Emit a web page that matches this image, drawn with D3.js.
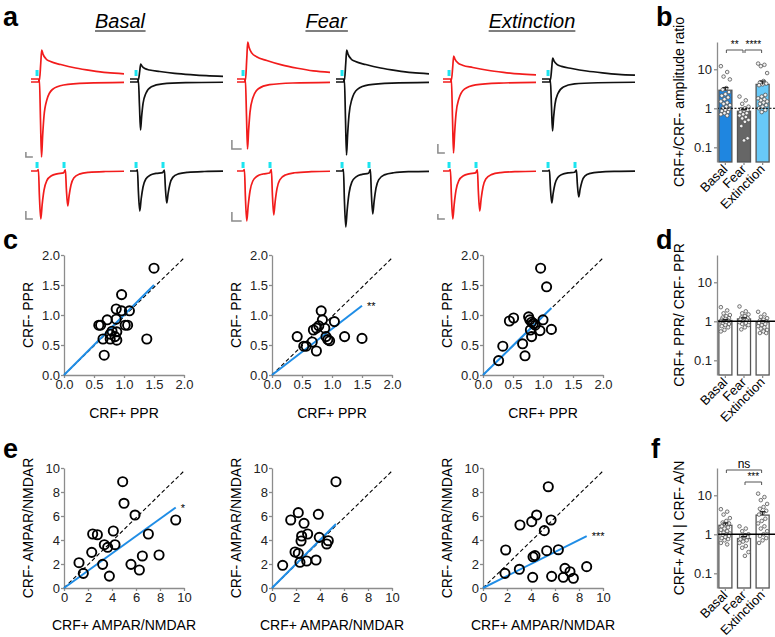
<!DOCTYPE html>
<html>
<head>
<meta charset="utf-8">
<script src="https://cdn.jsdelivr.net/npm/d3@7"></script>
<style>
  body { margin: 0; background: #fff; }
  svg { font-family: Arial, "Liberation Sans", sans-serif; }
</style>
</head>
<body>
<svg id="fig" width="775" height="637"></svg>
<script>
// groups
var conditions = ['Basal', 'Fear', 'Extinction'];

// panel a : peak amplitudes of the sample traces (a.u.)
var nmdaAmpPos = [29, 37, 23];   // CRF+ (red), outward
var nmdaAmpNeg = [15, 29, 21];   // CRF- (black), outward
var ampaAmpPos = [75, 67, 71];   // CRF+ inward
var ampaAmpNeg = [48, 73, 49];   // CRF- inward
var ppr1Pos = [48, 50, 48];
var ppr2Pos = [35, 44, 40];
var ppr1Neg = [40, 56, 32];
var ppr2Neg = [32, 43, 26];
var stimMs = [6.5, 35.5];
var scaleBarMs = [7.5, 10.5, 7.5];
var scaleBarTop = [5, 9, 9];
var scaleBarBot = [8, 9, 5];

// normalised waveform shapes: [ms, value]
var nmdaShape = [[0, 0], [6.5, 0], [8, 0], [9, -0.06], [10.5, 0.55], [11.5, 1], [13, 0.85], [16, 0.7],
  [21, 0.6], [32, 0.5], [48, 0.38], [65, 0.29], [82, 0.22], [100, 0.18]];
var ampaShape = [[0, 0], [6.5, 0], [8, 0], [9, 0.04], [10.2, -0.5], [11.3, -1], [12.5, -0.72], [14, -0.45],
  [17, -0.24], [23, -0.1], [35, -0.04], [60, -0.015], [100, -0.005]];
// [ms, pulse, value]
var pprShape = [[0, 0, 0], [6.5, 0, 0], [8, 1, 0.03], [9, 1, -0.5], [10.5, 1, -1], [12, 1, -0.7], [14, 1, -0.4],
  [17, 1, -0.2], [22, 1, -0.1], [28, 1, -0.06], [35, 1, -0.04], [37, 2, 0.03], [38, 2, -0.5], [39.5, 2, -1],
  [41, 2, -0.7], [43, 2, -0.4], [46, 2, -0.2], [52, 2, -0.09], [62, 2, -0.04], [80, 2, -0.015], [100, 0, -0.005]];

// panel b : CRF+/CRF- amplitude ratio
var ampMean = [2.9, 0.84, 4.1];
var ampSem = [0.5, 0.1, 0.9];
var ampBasal = [12, 8.5, 6.5, 5.5, 3.3, 3.0, 2.6, 2.3, 2.1, 1.9, 1.7, 1.5, 1.4, 1.3, 1.2, 1.1, 1.0, 0.95, 0.9, 0.85, 0.8, 0.75, 0.7, 0.65];
var ampFear = [2.0, 1.6, 1.3, 1.1, 1.0, 0.95, 0.9, 0.85, 0.8, 0.75, 0.7, 0.65, 0.6, 0.55, 0.5, 0.45, 0.35, 0.17, 0.15];
var ampExt = [14, 13, 12, 8, 5, 4.6, 4.3, 4.1, 3.9, 2.2, 2.0, 1.8, 1.7, 1.6, 1.5, 1.4, 1.3, 1.2, 1.1, 1.0, 0.9, 0.8];

// panel c : PPR scatter [CRF+, CRF-]
var pprBasal = [[1.50, 1.78], [0.96, 1.34], [0.87, 1.10], [0.96, 1.07], [1.09, 1.07], [0.72, 0.92], [0.87, 0.93],
  [0.58, 0.83], [0.61, 0.83], [1.02, 0.83], [1.06, 0.83], [0.80, 0.73], [0.88, 0.72], [0.77, 0.68], [0.85, 0.64],
  [0.65, 0.60], [0.77, 0.60], [0.88, 0.58], [1.38, 0.60], [0.67, 0.33]];
var pprFear = [[0.82, 1.07], [0.84, 0.92], [1.04, 0.89], [0.78, 0.82], [0.69, 0.75], [0.74, 0.78], [0.88, 0.78],
  [0.42, 0.64], [0.90, 0.64], [1.21, 0.64], [1.50, 0.61], [0.93, 0.59], [0.96, 0.57], [0.67, 0.55], [0.53, 0.48],
  [0.57, 0.48], [0.74, 0.40]];
var pprExt = [[0.96, 1.78], [1.06, 1.47], [0.44, 0.90], [0.51, 0.95], [0.76, 0.97], [0.78, 0.92], [0.81, 0.88],
  [0.84, 0.86], [0.87, 0.83], [1.00, 0.92], [1.14, 0.76], [0.95, 0.74], [0.79, 0.75], [0.81, 0.64], [0.66, 0.52],
  [0.70, 0.32], [0.33, 0.48], [0.26, 0.24]];
var pprSlope = [1.0, 0.77, 0.98];
var pprStars = ['', '**', ''];

// panel d : PPR ratio
var ppMean = [1.05, 1.15, 0.95];
var ppSem = [0.06, 0.08, 0.07];
var ppBasal = [2.3, 1.9, 1.6, 1.45, 1.35, 1.25, 1.2, 1.15, 1.1, 1.05, 1.0, 1.0, 0.95, 0.95, 0.9, 0.9, 0.85, 0.85, 0.8, 0.75, 0.7, 0.6, 0.55];
var ppFear = [2.4, 1.8, 1.6, 1.5, 1.35, 1.25, 1.2, 1.15, 1.1, 1.05, 1.0, 0.95, 0.9, 0.85, 0.8, 0.7, 0.62];
var ppExt = [1.75, 1.5, 1.3, 1.2, 1.1, 1.05, 1.0, 0.95, 0.9, 0.85, 0.8, 0.75, 0.7, 0.65, 0.6, 0.55, 0.5, 0.5];

// panel e : AMPAR/NMDAR scatter [CRF+, CRF-]
var anBasal = [[4.89, 8.86], [5.00, 7.06], [5.92, 6.08], [2.39, 4.50], [2.78, 4.44], [4.11, 4.75], [4.25, 3.61],
  [3.36, 3.61], [3.64, 3.39], [7.03, 4.50], [2.31, 2.97], [1.25, 2.11], [1.61, 1.22], [3.22, 1.97], [5.58, 1.97],
  [6.53, 2.67], [7.92, 2.75], [6.28, 1.50], [3.78, 0.99], [9.31, 5.67]];
var anFear = [[5.33, 8.86], [2.19, 6.28], [3.86, 6.14], [1.56, 5.67], [2.67, 5.39], [2.47, 4.33], [2.97, 4.50],
  [2.42, 3.92], [3.94, 4.22], [4.69, 3.94], [4.56, 3.67], [1.92, 3.00], [2.19, 2.89], [3.67, 2.33], [2.89, 2.25],
  [2.33, 2.14], [0.89, 1.89]];
var anExt = [[5.44, 8.44], [4.47, 6.08], [4.06, 5.53], [5.67, 5.67], [3.08, 5.25], [5.11, 4.78], [6.28, 3.19],
  [5.31, 3.11], [4.33, 2.70], [4.17, 2.60], [3.03, 1.56], [6.83, 1.64], [7.25, 1.36], [7.53, 0.81], [6.69, 0.89],
  [8.64, 1.78], [5.72, 0.97], [4.14, 0.89], [1.89, 3.17], [1.83, 1.22]];
var anSlope = [0.72, 1.0, 0.5];
var anStars = ['*', '', '***'];

// panel f : A/N ratio
var anRatioMean = [1.7, 0.78, 3.1];
var anRatioSem = [0.25, 0.1, 0.7];
var arBasal = [4.4, 3.8, 3.2, 2.6, 2.2, 2.0, 1.9, 1.8, 1.6, 1.5, 1.4, 1.3, 1.2, 1.1, 1.05, 1.0, 0.95, 0.9, 0.85, 0.8, 0.75, 0.7, 0.6, 0.55];
var arFear = [1.6, 1.4, 1.2, 1.0, 0.95, 0.9, 0.85, 0.8, 0.75, 0.7, 0.65, 0.6, 0.5, 0.45, 0.35, 0.28];
var arExt = [11, 9, 7.5, 6, 5, 4.5, 4, 3.5, 3.2, 2.5, 2.2, 1.9, 1.6, 1.4, 1.2, 1.0, 0.9, 0.8, 0.7, 0.6];

var logTicks = [0.1, 1, 10];

var svg = d3.select('#fig');
var red = '#f21c1c';
var cyan = '#1de4ef';
var axisGray = '#8c8c8c';

// ---------- panel letters ----------
var letters = [['a', 3, 26], ['b', 656, 26], ['c', 3, 249], ['d', 656, 249], ['e', 3, 458], ['f', 651, 458]];
svg.selectAll('.letter').data(letters).enter().append('text')
  .attr('class', 'letter')
  .attr('x', function(d) { return d[1]; })
  .attr('y', function(d) { return d[2]; })
  .style('font-size', '27px').style('font-weight', 'bold')
  .text(function(d) { return d[0]; });

// ---------- panel a : traces ----------
var groupX = d3.scaleBand().domain(conditions).range([31, 649]);
var msX = d3.scaleLinear().domain([0, 100]).range([0, 93]);
var rowUp = d3.scaleLinear().domain([0, 100]).range([79, -21]);
var rowLow = d3.scaleLinear().domain([0, 100]).range([82, -18]);
var rowPpr = d3.scaleLinear().domain([0, 100]).range([171, 71]);

// titles, centred over the red + black pair
conditions.forEach(function(c, i) {
  var cx = groupX(c) + 89;
  var t = svg.append('text').attr('x', cx).attr('y', 28)
    .attr('text-anchor', 'middle')
    .style('font-size', '20px').style('font-style', 'italic')
    .text(c);
  var bb = t.node().getBBox();
  svg.append('line').attr('x1', bb.x).attr('x2', bb.x + bb.width)
    .attr('y1', 31).attr('y2', 31).attr('stroke', '#000').attr('stroke-width', 1.2);
});

function drawTrace(x0, yScale, pts, color) {
  var line = d3.line()
    .x(function(d) { return x0 + msX(d[0]); })
    .y(function(d) { return yScale(d[1]); })
    .curve(d3.curveMonotoneX);
  svg.append('path').attr('d', line(pts)).attr('fill', 'none')
    .attr('stroke', color).attr('stroke-width', 1.7).attr('stroke-linejoin', 'round');
}

function scaled(shape, amp) {
  return shape.map(function(p) { return [p[0], p[1] * amp]; });
}

function scaledPpr(a1, a2) {
  return pprShape.map(function(p) {
    var a = p[1] === 2 ? a2 : a1;
    return [p[0], p[2] * a];
  });
}

function stim(x0, yScale, ms) {
  svg.append('rect').attr('x', x0 + msX(ms) - 1.5).attr('width', 3)
    .attr('y', yScale(9)).attr('height', yScale(3) - yScale(9))
    .attr('fill', cyan);
}

function scaleBar(x0, yScale, bottom, w, h) {
  var xa = x0 + msX(-5.5);
  var xb = x0 + msX(-5.5 + w);
  var yb = yScale(bottom);
  var yt = yScale(bottom + h);
  svg.append('path').attr('d', 'M' + xa + ',' + yt + 'L' + xa + ',' + yb + 'L' + xb + ',' + yb)
    .attr('fill', 'none').attr('stroke', '#8a8a8a').attr('stroke-width', 1.5);
}

conditions.forEach(function(c, i) {
  var xr = groupX(c);
  var xb = groupX(c) + 99;
  // top row: outward and inward currents
  drawTrace(xr, rowUp, scaled(nmdaShape, nmdaAmpPos[i]), red);
  drawTrace(xr, rowLow, scaled(ampaShape, ampaAmpPos[i]), red);
  drawTrace(xb, rowUp, scaled(nmdaShape, nmdaAmpNeg[i]), '#111');
  drawTrace(xb, rowLow, scaled(ampaShape, ampaAmpNeg[i]), '#111');
  stim(xr, rowUp, stimMs[0]);
  stim(xb, rowUp, stimMs[0]);
  scaleBar(xr, rowLow, -ampaAmpPos[i], scaleBarMs[i], scaleBarTop[i]);
  // bottom row: paired pulses
  drawTrace(xr, rowPpr, scaledPpr(ppr1Pos[i], ppr2Pos[i]), red);
  drawTrace(xb, rowPpr, scaledPpr(ppr1Neg[i], ppr2Neg[i]), '#111');
  stimMs.forEach(function(s) {
    stim(xr, rowPpr, s);
    stim(xb, rowPpr, s);
  });
  scaleBar(xr, rowPpr, -ppr1Pos[i], scaleBarMs[i], scaleBarBot[i]);
});

// ---------- scatter panels c / e ----------
var scatterLeft = [64, 272, 483];

function styleAxis(g) {
  g.select('.domain').attr('stroke', axisGray).attr('stroke-width', 1.3);
  g.selectAll('.tick line').attr('stroke', axisGray).attr('stroke-width', 1.3);
  g.selectAll('.tick text').attr('fill', '#222').style('font-size', '13px');
}

function drawScatter(i, pts, top, maxV, ticks, fmt, slope, star, xLabel, yLabel, labelY) {
  var left = scatterLeft[i];
  var x = d3.scaleLinear().domain([0, maxV]).range([left, left + 120]);
  var y = d3.scaleLinear().domain([0, maxV]).range([top + 120, top]);
  var g = svg.append('g');

  g.append('g').attr('transform', 'translate(0,' + (top + 120) + ')')
    .call(d3.axisBottom(x).tickValues(ticks).tickFormat(d3.format(fmt)).tickSize(3).tickPadding(2).tickSizeOuter(0))
    .call(styleAxis);
  g.append('g').attr('transform', 'translate(' + left + ',0)')
    .call(d3.axisLeft(y).tickValues(ticks).tickFormat(d3.format(fmt)).tickSize(3).tickPadding(1).tickSizeOuter(0))
    .call(styleAxis);

  // identity line
  g.append('line')
    .attr('x1', x(0)).attr('y1', y(0)).attr('x2', x(maxV)).attr('y2', y(maxV * 0.975))
    .attr('stroke', '#000').attr('stroke-width', 1.1).attr('stroke-dasharray', '4,2.5');

  // regression through origin
  var xEnd = d3.max(pts, function(d) { return d[0]; });
  g.append('line')
    .attr('x1', x(0)).attr('y1', y(0)).attr('x2', x(xEnd)).attr('y2', y(xEnd * slope))
    .attr('stroke', '#1f8de6').attr('stroke-width', 2);

  g.selectAll('circle').data(pts).enter().append('circle')
    .attr('cx', function(d) { return x(d[0]); })
    .attr('cy', function(d) { return y(d[1]); })
    .attr('r', 4.6)
    .attr('fill', 'none').attr('stroke', '#000').attr('stroke-width', 1.9);

  if (star) {
    g.append('text').attr('x', x(xEnd) + 5).attr('y', y(xEnd * slope) + 4)
      .style('font-size', '11px').text(star);
  }

  g.append('text').attr('x', left + 60).attr('y', labelY)
    .attr('text-anchor', 'middle').style('font-size', '14px').text(xLabel);
  g.append('text')
    .attr('transform', 'translate(' + (left - 31) + ',' + (top + 60) + ') rotate(-90)')
    .attr('text-anchor', 'middle').style('font-size', '14px').text(yLabel);
}

var pprSets = [pprBasal, pprFear, pprExt];
var anSets = [anBasal, anFear, anExt];
pprSets.forEach(function(pts, i) {
  drawScatter(i, pts, 255, 2, [0, 0.5, 1, 1.5, 2], '.1f', pprSlope[i], pprStars[i], 'CRF+ PPR', 'CRF- PPR', 418);
});
anSets.forEach(function(pts, i) {
  drawScatter(i, pts, 468, 10, [0, 2, 4, 6, 8, 10], 'd', anSlope[i], anStars[i], 'CRF+ AMPAR/NMDAR', 'CRF- AMPAR/NMDAR', 630);
});

// ---------- bar panels b / d / f ----------
var barX = d3.scaleBand().domain(conditions).range([717, 771]).paddingInner(0.3).paddingOuter(0.1);

function drawBars(top, means, sems, sets, fills, refDash, yLabel, brackets) {
  var y = d3.scaleLog().domain([0.042, 50]).range([top + 120, top]);
  var g = svg.append('g');
  var bw = barX.bandwidth();

  g.selectAll('rect').data(conditions).enter().append('rect')
    .attr('x', function(d) { return barX(d); })
    .attr('width', bw)
    .attr('y', function(d, i) { return y(means[i]); })
    .attr('height', function(d, i) { return top + 120 - y(means[i]); })
    .attr('fill', function(d, i) { return fills[i]; })
    .attr('stroke', '#555').attr('stroke-width', 1.3);

  sets.forEach(function(vals, i) {
    var cx = barX(conditions[i]) + bw / 2;
    g.selectAll('.dot' + i).data(vals).enter().append('circle')
      .attr('cx', function(d, j) { return cx + ((j * 7) % 11 - 5) * 0.9; })
      .attr('cy', function(d) { return y(d); })
      .attr('r', 1.8)
      .attr('fill', '#f2f2f2').attr('stroke', '#555').attr('stroke-width', 0.8);
  });

  // error bars
  sems.forEach(function(s, i) {
    var cx = barX(conditions[i]) + bw / 2;
    var yt = y(means[i] + s);
    g.append('line').attr('x1', cx).attr('x2', cx).attr('y1', y(means[i])).attr('y2', yt)
      .attr('stroke', '#222').attr('stroke-width', 1.2);
    g.append('line').attr('x1', cx - 3).attr('x2', cx + 3).attr('y1', yt).attr('y2', yt)
      .attr('stroke', '#222').attr('stroke-width', 1.2);
  });

  // reference at 1
  g.append('line').attr('x1', 717).attr('x2', 775).attr('y1', y(1)).attr('y2', y(1))
    .attr('stroke', '#000').attr('stroke-width', refDash ? 1 : 1.4)
    .attr('stroke-dasharray', refDash ? '2,1.5' : null);

  g.append('g').attr('transform', 'translate(717,0)')
    .call(d3.axisLeft(y).tickValues(logTicks).tickFormat(function(d) { return d; }).tickSize(3).tickPadding(2).tickSizeOuter(0))
    .call(styleAxis);

  var xa = g.append('g').attr('transform', 'translate(0,' + (top + 120) + ')')
    .call(d3.axisBottom(barX).tickSize(3).tickFormat(''));
  xa.select('.domain').remove();
  xa.selectAll('.tick line').attr('stroke', axisGray).attr('stroke-width', 1.3);

  g.selectAll('.xlab').data(conditions).enter().append('text')
    .attr('transform', function(d) {
      return 'translate(' + (barX(d) + bw / 2 + 3) + ',' + (top + 128) + ') rotate(-45)';
    })
    .attr('text-anchor', 'end').style('font-size', '13px').text(function(d) { return d; });

  g.append('text')
    .attr('transform', 'translate(684,' + (top + 60) + ') rotate(-90)')
    .attr('text-anchor', 'middle').style('font-size', '14px').text(yLabel);

  brackets.forEach(function(b) {
    var x1 = barX(conditions[b[0]]) + bw / 2 + 1;
    var x2 = barX(conditions[b[1]]) + bw / 2 - 1;
    var yb = top + b[2];
    g.append('path').attr('d', 'M' + x1 + ',' + (yb + 3) + 'L' + x1 + ',' + yb + 'L' + x2 + ',' + yb + 'L' + x2 + ',' + (yb + 3))
      .attr('fill', 'none').attr('stroke', '#555').attr('stroke-width', 1);
    g.append('text').attr('x', (x1 + x2) / 2).attr('y', yb - 2)
      .attr('text-anchor', 'middle').style('font-size', b[3] === 'ns' ? '12px' : '10px').text(b[3]);
  });
}

drawBars(42, ampMean, ampSem, [ampBasal, ampFear, ampExt], ['#1f86e0', '#666666', '#68c9f8'], true,
  'CRF+/CRF- amplitude ratio', [[0, 1, 8, '**'], [1, 2, 8, '****']]);
drawBars(255, ppMean, ppSem, [ppBasal, ppFear, ppExt], ['#fff', '#fff', '#fff'], false,
  'CRF+ PPR/ CRF- PPR', []);
drawBars(468, anRatioMean, anRatioSem, [arBasal, arFear, arExt], ['#fff', '#fff', '#fff'], false,
  'CRF+ A/N | CRF- A/N', [[0, 2, 2, 'ns'], [1, 2, 14, '***']]);
</script>
</body>
</html>
